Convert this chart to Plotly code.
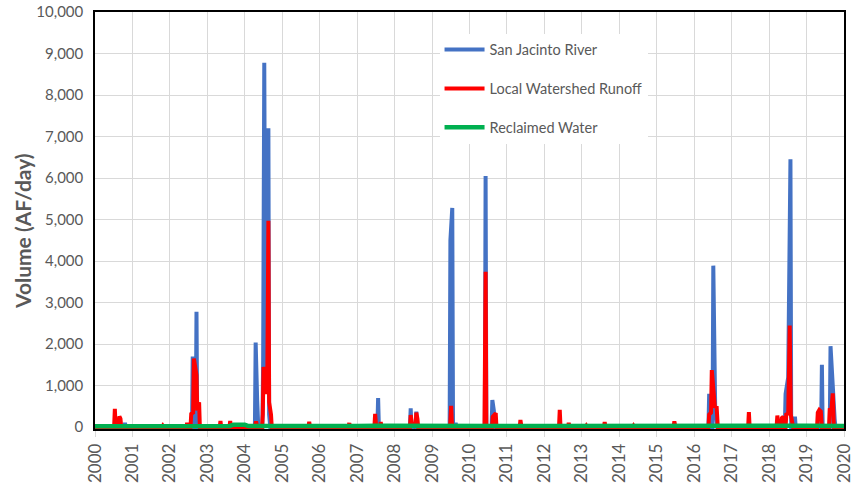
import plotly.graph_objects as go

# ---- data (decimal years, AF/day) ----
sjr_x = [2000.00, 2000.78, 2000.80, 2000.82,
         2002.59, 2002.61, 2002.63, 2002.69, 2002.71, 2002.73,
         2004.27, 2004.29, 2004.33, 2004.36,
         2004.47, 2004.49, 2004.52, 2004.55, 2004.58, 2004.61, 2004.63, 2004.65, 2004.68,
         2004.82, 2004.84, 2004.86,
         2007.54, 2007.56, 2007.58,
         2008.41, 2008.43, 2008.45, 2008.56, 2008.58, 2008.60,
         2009.47, 2009.49, 2009.54, 2009.56, 2009.61, 2009.63, 2009.65,
         2010.41, 2010.43, 2010.45, 2010.59, 2010.61, 2010.65, 2010.68,
         2015.27, 2015.29, 2015.31,
         2016.38, 2016.40, 2016.42, 2016.49, 2016.51, 2016.56, 2016.62,
         2018.42, 2018.44, 2018.51, 2018.57, 2018.59, 2018.67, 2018.69, 2018.71,
         2019.39, 2019.41, 2019.43, 2019.62, 2019.64, 2019.75, 2019.77,
         2020.00]
sjr_y = [0, 0, 100, 0,
         0, 1700, 0, 0, 2780, 0,
         0, 2040, 650, 0,
         0, 1600, 8780, 1500, 1200, 1000, 7200, 300, 0,
         0, 50, 0,
         0, 700, 0,
         0, 455, 0, 0, 375, 0,
         0, 4500, 5280, 0, 0, 100, 0,
         0, 6050, 0, 0, 650, 400, 0,
         0, 50, 0,
         0, 800, 0, 0, 3890, 500, 0,
         0, 800, 1200, 6450, 0, 0, 250, 0,
         0, 1500, 0, 0, 1950, 200, 0,
         0]

lwr_x = [2000.00, 2000.51, 2000.53, 2000.55, 2000.63, 2000.65, 2000.68, 2000.70,
         2001.79, 2001.81, 2001.83,
         2002.32, 2002.34, 2002.36, 2002.44, 2002.46, 2002.48,
         2002.55, 2002.57, 2002.62, 2002.64, 2002.68, 2002.71, 2002.73, 2002.78, 2002.80,
         2003.33, 2003.35, 2003.37, 2003.49, 2003.51, 2003.53, 2003.59, 2003.61, 2003.63,
         2003.90, 2003.93, 2004.00, 2004.03,
         2004.27, 2004.30, 2004.33,
         2004.46, 2004.48, 2004.50, 2004.53, 2004.56, 2004.60, 2004.63, 2004.65, 2004.70, 2004.72,
         2005.25, 2005.27, 2005.29, 2005.47, 2005.49, 2005.51, 2005.70, 2005.72, 2005.74,
         2006.77, 2006.79, 2006.81,
         2007.46, 2007.48, 2007.51, 2007.61, 2007.63, 2007.65,
         2008.41, 2008.43, 2008.46, 2008.56, 2008.58, 2008.61, 2008.63,
         2009.48, 2009.51, 2009.53, 2009.55,
         2010.40, 2010.43, 2010.45, 2010.60, 2010.62, 2010.70, 2010.72,
         2011.34, 2011.36, 2011.39,
         2012.39, 2012.41, 2012.43, 2012.52, 2012.54, 2012.56, 2012.63, 2012.65, 2012.67,
         2013.10, 2013.12, 2013.14, 2013.34, 2013.36, 2013.38, 2013.59, 2013.61, 2013.63,
         2014.14, 2014.16, 2014.18, 2014.36, 2014.38, 2014.40,
         2015.45, 2015.47, 2015.50,
         2016.38, 2016.40, 2016.45, 2016.47, 2016.50, 2016.55, 2016.60, 2016.63,
         2017.44, 2017.46, 2017.48, 2017.60, 2017.62, 2017.66,
         2018.20, 2018.22, 2018.25, 2018.32, 2018.34, 2018.38, 2018.40,
         2018.44, 2018.46, 2018.51, 2018.55, 2018.58, 2018.62, 2018.64,
         2018.80, 2018.82, 2018.84,
         2019.28, 2019.30, 2019.34, 2019.38, 2019.41,
         2019.60, 2019.62, 2019.66, 2019.70, 2019.73,
         2020.00]
lwr_y = [0, 0, 440, 0, 0, 260, 200, 0,
         0, 30, 0,
         0, 60, 0, 0, 100, 0,
         0, 320, 350, 1650, 1300, 1250, 400, 600, 0,
         0, 150, 0, 0, 60, 0, 0, 150, 0,
         0, -30, -30, 0,
         0, 140, 0,
         0, 300, 1450, 1300, 800, 1000, 4970, 600, 300, 0,
         0, 40, 0, 0, 60, 0, 0, 130, 0,
         0, 100, 0,
         0, 320, 0, 0, 120, 0,
         0, 290, 100, 0, 350, 200, 0,
         0, 510, 100, 0,
         0, 3740, 0, 0, 250, 335, 0,
         0, 170, 0,
         0, 415, 0, 0, 50, 0, 0, 100, 0,
         0, 30, 0, 0, 50, 0, 0, 120, 0,
         0, 50, 0, 0, 30, 0,
         0, 140, 0,
         0, 300, 350, 1375, 900, 500, 480, 0,
         0, 360, 0, 0, 20, 0,
         0, 280, 0, 0, 220, 250, 0,
         0, 330, 300, 2450, 300, 80, 0,
         0, 50, 0,
         0, 350, 415, 380, 0,
         0, 455, 400, 815, 0,
         0]

rw_x = [2000.0, 2001.0, 2002.0, 2002.7, 2003.0, 2003.6, 2003.7, 2004.0, 2004.1,
        2005.0, 2006.0, 2007.0, 2007.5, 2008.0, 2009.0, 2010.0, 2011.0, 2012.0,
        2013.0, 2014.0, 2015.0, 2016.0, 2017.0, 2018.0, 2019.0, 2020.0]
rw_y = [20, 20, 20, 35, 25, 30, 60, 55, 25,
        20, 20, 25, 35, 30, 35, 30, 25, 25,
        30, 30, 25, 30, 35, 40, 35, 30]

year_ticks = list(range(2000, 2021))
y_ticks = list(range(0, 10001, 1000))
y_title = "Volume (AF/day)"

FONT = "Lato"
GRAY = "#595959"
GRID = "#d9d9d9"

fig = go.Figure()
fig.add_trace(go.Scatter(x=sjr_x, y=sjr_y, mode="lines", name="San Jacinto River",
                         legendgroup="a", line=dict(color="#4472c4", width=4)))
fig.add_trace(go.Scatter(x=lwr_x, y=lwr_y, mode="lines", name="Local Watershed Runoff",
                         legendgroup="b", line=dict(color="#ff0000", width=4)))
fig.add_trace(go.Scatter(x=rw_x, y=rw_y, mode="lines", name="Reclaimed Water",
                         legendgroup="c", line=dict(color="#00b050", width=4.5)))

fig.update_layout(
    width=854, height=490,
    margin=dict(l=95, r=10, t=12, b=61),
    paper_bgcolor="white", plot_bgcolor="white",
    font=dict(family=FONT, color=GRAY),
    showlegend=True,
    legend=dict(x=0.46, y=0.948, xanchor="left", yanchor="top",
                bgcolor="white", font=dict(size=14.5, color=GRAY, family=FONT),
                tracegroupgap=17, itemwidth=40),
    annotations=[dict(text="<b>" + y_title + "</b>", textangle=-90,
                      xref="paper", yref="paper", x=-0.096, y=0.475,
                      xanchor="center", yanchor="middle", showarrow=False,
                      font=dict(size=21, color=GRAY, family=FONT))],
)
fig.update_xaxes(
    range=[2000, 2020], tickvals=year_ticks, ticktext=[str(t) for t in year_ticks],
    tickangle=-90, tickfont=dict(size=17, color=GRAY, family=FONT),
    ticklabeloverflow="allow",
    showgrid=True, gridcolor=GRID, gridwidth=1,
    ticks="outside", ticklen=6, tickcolor=GRID,
    showline=True, linecolor="black", linewidth=1.5, mirror=True,
    zeroline=False, automargin=False,
)
fig.update_yaxes(
    range=[-45, 10000], tickvals=y_ticks, tickformat=",d",
    tickfont=dict(size=15, color=GRAY, family=FONT),
    ticklabeloverflow="allow", ticklabelstandoff=7,
    showgrid=True, gridcolor=GRID, gridwidth=1,
    showline=True, linecolor="black", linewidth=1.5, mirror=True,
    zeroline=False, automargin=False,
)

fig.write_html("out.html", config={"displayModeBar": False},
               post_script="document.body.style.margin='0px';")
